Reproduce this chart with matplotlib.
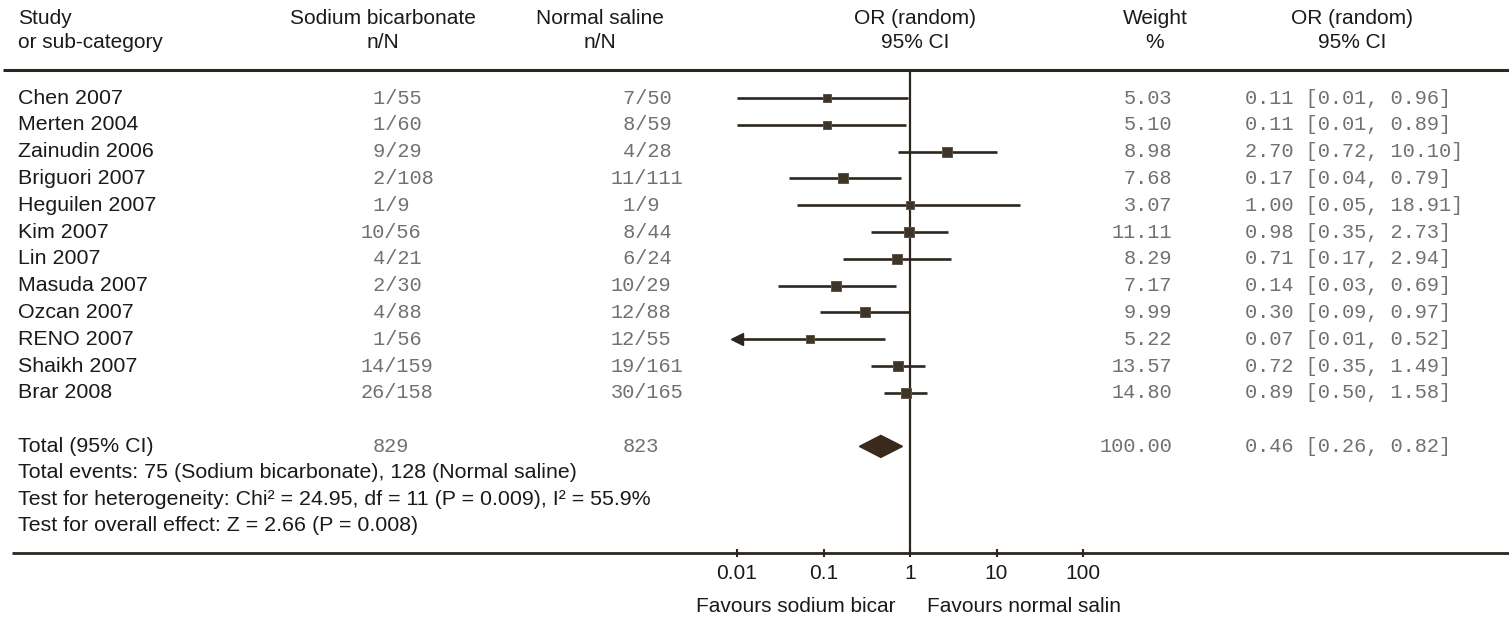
import numpy as np
import matplotlib
matplotlib.use("Agg")
import matplotlib.pyplot as plt
from matplotlib.patches import Polygon

# Studies comparing sodium bicarbonate with normal saline
studies = ["Chen 2007", "Merten 2004", "Zainudin 2006", "Briguori 2007",
           "Heguilen 2007", "Kim 2007", "Lin 2007", "Masuda 2007",
           "Ozcan 2007", "RENO 2007", "Shaikh 2007", "Brar 2008"]
bicarb_n = [1, 1, 9, 2, 1, 10, 4, 2, 4, 1, 14, 26]
bicarb_N = [55, 60, 29, 108, 9, 56, 21, 30, 88, 56, 159, 158]
saline_n = [7, 8, 4, 11, 1, 8, 6, 10, 12, 12, 19, 30]
saline_N = [50, 59, 28, 111, 9, 44, 24, 29, 88, 55, 161, 165]
weights = [5.03, 5.10, 8.98, 7.68, 3.07, 11.11, 8.29, 7.17, 9.99, 5.22, 13.57, 14.80]
odds = [0.11, 0.11, 2.70, 0.17, 1.00, 0.98, 0.71, 0.14, 0.30, 0.07, 0.72, 0.89]
ci_low = [0.01, 0.01, 0.72, 0.04, 0.05, 0.35, 0.17, 0.03, 0.09, 0.01, 0.35, 0.50]
ci_high = [0.96, 0.89, 10.10, 0.79, 18.91, 2.73, 2.94, 0.69, 0.97, 0.52, 1.49, 1.58]
# RENO 2007 lower limit runs past the left end of the axis
clipped = [False] * 9 + [True] + [False] * 2

total_bicarb = 829
total_saline = 823
total_weight = 100.00
pooled_or, pooled_low, pooled_high = 0.46, 0.26, 0.82

footer_lines = [
    "Total events: 75 (Sodium bicarbonate), 128 (Normal saline)",
    "Test for heterogeneity: Chi\u00b2 = 24.95, df = 11 (P = 0.009), I\u00b2 = 55.9%",
    "Test for overall effect: Z = 2.66 (P = 0.008)",
]
axis_ticks = [0.01, 0.1, 1, 10, 100]
axis_ticklabels = ["0.01", "0.1", "1", "10", "100"]

W, H = 1509, 618
INK = "#1c1a17"
LINE = "#2c261e"
MONO_C = "#707070"
SANS = "Liberation Sans"
MONO = "Liberation Mono"
fs = 15.4
hfs = 15.0
mfs = 14.6

fig = plt.figure(figsize=(W / 100, H / 100), dpi=100, facecolor="white")

# background axes in pixel units for the table text and rules
bg = fig.add_axes([0, 0, 1, 1])
bg.set_xlim(0, W)
bg.set_ylim(H, 0)
bg.axis("off")

row0, step = 98, 26.8
rows = [row0 + step * i for i in range(len(studies))]
total_y = row0 + step * 13
top_rule, axis_y = 70, 553

# column anchors (pixels)
bic_slash, sal_slash = 391, 641
weight_right, ci_left = 1172, 1245

# header
bg.text(18, 18, "Study", fontsize=hfs, family=SANS, color=INK, va="center")
bg.text(18, 42, "or sub-category", fontsize=hfs, family=SANS, color=INK, va="center")
for cx, t1, t2 in [(383, "Sodium bicarbonate", "n/N"), (600, "Normal saline", "n/N"),
                   (915, "OR (random)", "95% CI"), (1155, "Weight", "%"),
                   (1352, "OR (random)", "95% CI")]:
    bg.text(cx, 18, t1, fontsize=hfs, family=SANS, color=INK, ha="center", va="center")
    bg.text(cx, 42, t2, fontsize=hfs, family=SANS, color=INK, ha="center", va="center")

bg.plot([3, W], [top_rule, top_rule], color=LINE, lw=2.2, solid_capstyle="butt")
bg.plot([12, W], [axis_y, axis_y], color=LINE, lw=2.0, solid_capstyle="butt")

# character width of the monospace font, used to line up the slashes
cw = 0.6 * mfs * 100 / 72

for i, y in enumerate(rows):
    bg.text(18, y, studies[i], fontsize=fs, family=SANS, color=INK, va="center")
    bg.text(bic_slash - 2.5 * cw, y, f"{bicarb_n[i]:>2}/{bicarb_N[i]}", fontsize=mfs,
            family=MONO, color=MONO_C, ha="left", va="center")
    bg.text(sal_slash - 2.5 * cw, y, f"{saline_n[i]:>2}/{saline_N[i]}", fontsize=mfs,
            family=MONO, color=MONO_C, ha="left", va="center")
    bg.text(weight_right, y, f"{weights[i]:.2f}", fontsize=mfs, family=MONO, color=MONO_C,
            ha="right", va="center")
    bg.text(ci_left, y, f"{odds[i]:.2f} [{ci_low[i]:.2f}, {ci_high[i]:.2f}]", fontsize=mfs,
            family=MONO, color=MONO_C, ha="left", va="center")

bg.text(18, total_y, "Total (95% CI)", fontsize=fs, family=SANS, color=INK, va="center")
bg.text(bic_slash - 1.5 * cw, total_y, f"{total_bicarb}", fontsize=mfs, family=MONO,
        color=MONO_C, ha="left", va="center")
bg.text(sal_slash - 1.5 * cw, total_y, f"{total_saline}", fontsize=mfs, family=MONO,
        color=MONO_C, ha="left", va="center")
bg.text(weight_right, total_y, f"{total_weight:.2f}", fontsize=mfs, family=MONO,
        color=MONO_C, ha="right", va="center")
bg.text(ci_left, total_y, f"{pooled_or:.2f} [{pooled_low:.2f}, {pooled_high:.2f}]",
        fontsize=mfs, family=MONO, color=MONO_C, ha="left", va="center")
for k, line in enumerate(footer_lines):
    bg.text(18, total_y + 26.5 * (k + 1), line, fontsize=fs, family=SANS, color=INK,
            va="center")

# forest plot axes: 0.01 -> 737 px, 100 -> 1083 px
x_left, x_right = 700, 1100
dec = (1083 - 737) / 4
lo_exp = -2 - (737 - x_left) / dec
hi_exp = 2 + (x_right - 1083) / dec
ax = fig.add_axes([x_left / W, 1 - axis_y / H, (x_right - x_left) / W, (axis_y - top_rule) / H])
ax.set_xscale("log")
ax.set_xlim(10 ** lo_exp, 10 ** hi_exp)
ax.set_ylim(axis_y, top_rule)
ax.patch.set_alpha(0)
for s in ax.spines.values():
    s.set_visible(False)
ax.set_yticks([])
ax.set_xticks(axis_ticks)
ax.set_xticklabels(axis_ticklabels)
ax.minorticks_off()
ax.tick_params(axis="x", direction="inout", length=6, width=1.5, color=LINE,
               labelsize=hfs, pad=5, labelcolor=INK)
for lab in ax.get_xticklabels():
    lab.set_family(SANS)

ax.axvline(1, color=LINE, lw=1.6, zorder=1)

for i, y in enumerate(rows):
    ax.plot([ci_low[i], ci_high[i]], [y, y], color=LINE, lw=1.9, solid_capstyle="butt",
            zorder=2)
    ax.plot(odds[i], y, marker="s", ms=5.6 + 0.15 * weights[i], color="#3e3528",
            mec="#5e5444", mew=0.7, zorder=3)
    if clipped[i]:
        ax.plot(ci_low[i], y, marker="<", ms=9, color=LINE, zorder=3)

diamond = Polygon([(pooled_low, total_y), (pooled_or, total_y - 11),
                   (pooled_high, total_y), (pooled_or, total_y + 11)],
                  closed=True, facecolor="#3a2a1c", edgecolor="#3a2a1c", zorder=3)
ax.add_patch(diamond)

bg.text(895, 607, "Favours sodium bicar", fontsize=hfs, family=SANS, color=INK,
        ha="right", va="center")
bg.text(927, 607, "Favours normal salin", fontsize=hfs, family=SANS, color=INK,
        ha="left", va="center")

fig.savefig("out.png", dpi=100, facecolor="white")
